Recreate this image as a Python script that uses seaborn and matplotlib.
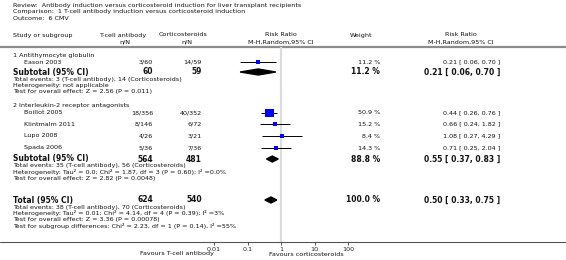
import matplotlib
matplotlib.use("Agg")
import matplotlib.pyplot as plt
import seaborn as sns
import numpy as np
from matplotlib.patches import Polygon

sns.set_style("white")
plt.rcParams['font.family'] = ['DejaVu Sans']

# --- data ---
studies = ["Eason 2003", "Boillot 2005", "Klintmalm 2011", "Lupo 2008", "Spada 2006"]
tcell_nN = ["3/60", "18/356", "8/146", "4/26", "5/36"]
cortico_nN = ["14/59", "40/352", "6/72", "3/21", "7/36"]
weights = [11.2, 50.9, 15.2, 8.4, 14.3]
rr = [0.21, 0.44, 0.66, 1.08, 0.71]
rr_lo = [0.06, 0.26, 0.24, 0.27, 0.25]
rr_hi = [0.70, 0.76, 1.82, 4.29, 2.04]

pooled_labels = ["Subtotal (95% CI)", "Subtotal (95% CI)", "Total (95% CI)"]
pooled_tcell_n = ["60", "564", "624"]
pooled_cortico_n = ["59", "481", "540"]
pooled_weight = [11.2, 88.8, 100.0]
pooled_rr = [0.21, 0.55, 0.50]
pooled_lo = [0.06, 0.37, 0.33]
pooled_hi = [0.70, 0.83, 0.75]

group_labels = ["1 Antithymocyte globulin", "2 Interleukin-2 receptor antagonists"]
stats_g1 = ["Total events: 3 (T-cell antibody), 14 (Corticosteroids)",
            "Heterogeneity: not applicable",
            "Test for overall effect: Z = 2.56 (P = 0.011)"]
stats_g2 = ["Total events: 35 (T-cell antibody), 56 (Corticosteroids)",
            "Heterogeneity: Tau\u00b2 = 0.0; Chi\u00b2 = 1.87, df = 3 (P = 0.60); I\u00b2 =0.0%",
            "Test for overall effect: Z = 2.82 (P = 0.0048)"]
stats_total = ["Total events: 38 (T-cell antibody), 70 (Corticosteroids)",
               "Heterogeneity: Tau\u00b2 = 0.01; Chi\u00b2 = 4.14, df = 4 (P = 0.39); I\u00b2 =3%",
               "Test for overall effect: Z = 3.36 (P = 0.00078)",
               "Test for subgroup differences: Chi\u00b2 = 2.23, df = 1 (P = 0.14), I\u00b2 =55%"]
tick_vals = [0.01, 0.1, 1, 10, 100]
tick_labels = ["0.01", "0.1", "1", "10", "100"]

# row positions (pixels from top)
study_y = [62, 113, 124, 136, 148]
pooled_y = [72, 159, 200]

W, H = 566, 260
fig = plt.figure(figsize=(W / 100, H / 100), dpi=100)
bg = fig.add_axes([0, 0, 1, 1])
bg.set_xlim(0, W)
bg.set_ylim(H, 0)
bg.axis("off")

fs = 4.6
fsb = 5.5

def txt(x, y, s, ha="left", size=fs, bold=False):
    bg.text(x, y, s, ha=ha, va="center", fontsize=size,
            fontweight="bold" if bold else "normal", color="#111111")

txt(13, 5, "Review:  Antibody induction versus corticosteroid induction for liver transplant recipients")
txt(13, 12, "Comparison:  1 T-cell antibody induction versus corticosteroid induction")
txt(13, 19, "Outcome:  6 CMV")

txt(13, 35, "Study or subgroup")
txt(123, 35, "T-cell antibody", ha="center")
txt(125, 42, "n/N", ha="center")
txt(183, 35, "Corticosteroids", ha="center")
txt(187, 42, "n/N", ha="center")
txt(281, 35, "Risk Ratio", ha="center")
txt(281, 42, "M-H,Random,95% CI", ha="center")
txt(361, 35, "Weight", ha="center")
txt(461, 35, "Risk Ratio", ha="center")
txt(461, 42, "M-H,Random,95% CI", ha="center")

bg.plot([0, W], [47, 47], color="#8c8c8c", lw=1.6)
bg.plot([0, W], [242, 242], color="#555555", lw=0.8)

txt(13, 55, group_labels[0])
txt(13, 106, group_labels[1])

for name, a, b, w, r, lo, hi, y in zip(studies, tcell_nN, cortico_nN, weights, rr, rr_lo, rr_hi, study_y):
    txt(24, y, name)
    txt(153, y, a, ha="right")
    txt(202, y, b, ha="right")
    txt(380, y, f"{w:.1f} %", ha="right")
    txt(500, y, f"{r:.2f} [ {lo:.2f}, {hi:.2f} ]", ha="right")

for lab, a, b, w, r, lo, hi, y in zip(pooled_labels, pooled_tcell_n, pooled_cortico_n,
                                      pooled_weight, pooled_rr, pooled_lo, pooled_hi, pooled_y):
    txt(13, y, lab, size=fsb, bold=True)
    txt(153, y, a, ha="right", size=fsb, bold=True)
    txt(202, y, b, ha="right", size=fsb, bold=True)
    txt(380, y, f"{w:.1f} %", ha="right", size=fsb, bold=True)
    txt(500, y, f"{r:.2f} [ {lo:.2f}, {hi:.2f} ]", ha="right", size=fsb, bold=True)

for lines, y0 in [(stats_g1, 79), (stats_g2, 166), (stats_total, 207)]:
    for i, s in enumerate(lines):
        txt(13, y0 + 6.2 * i, s)

txt(214, 254, "Favours T-cell antibody", ha="right")
txt(269, 254, "Favours corticosteroids", ha="left")

# forest axes
ax = fig.add_axes([214 / W, (H - 242) / H, (348 - 214) / W, (242 - 47) / H])
ax.set_xscale("log")
ax.set_xlim(0.01, 100)
ax.set_ylim(242, 47)
ax.patch.set_alpha(0)
for side in ["top", "right", "left", "bottom"]:
    ax.spines[side].set_visible(False)
ax.set_yticks([])
ax.set_xticks(tick_vals)
ax.set_xticklabels(tick_labels)
ax.minorticks_off()
ax.tick_params(axis="x", direction="out", length=2.5, width=0.6, pad=1,
               labelsize=fs, color="#333333", bottom=True)

ax.axvline(1, color="#dcdcdc", lw=1.6, zorder=0)
ax.hlines(study_y, rr_lo, rr_hi, color="black", lw=0.7, zorder=2)
sns.scatterplot(x=rr, y=study_y, size=weights, sizes=(0.82 * 8.4, 0.82 * 50.9),
                size_norm=(8.4, 50.9), marker="s", color="#0000ff", linewidth=0,
                legend=False, ax=ax, zorder=3)

for r, lo, hi, y in zip(pooled_rr, pooled_lo, pooled_hi, pooled_y):
    ax.add_patch(Polygon([[lo, y], [r, y - 3], [hi, y], [r, y + 3]],
                         closed=True, color="black", zorder=3))

ax.set_xlabel("")
ax.set_ylabel("")

fig.savefig("out.png", dpi=100)
